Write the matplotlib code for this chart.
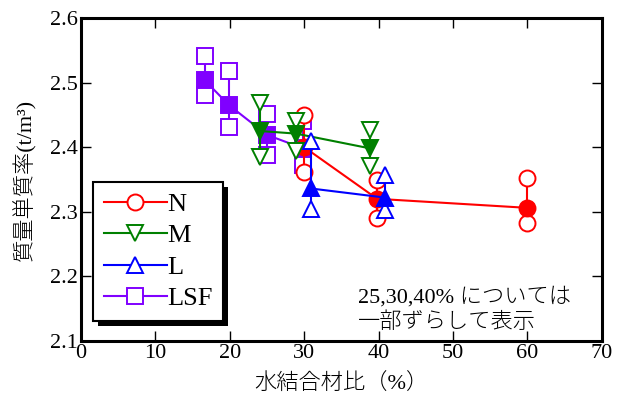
import matplotlib
matplotlib.use("Agg")
import matplotlib.pyplot as plt
from matplotlib.patches import Rectangle
from matplotlib.lines import Line2D

plt.rcParams['font.family'] = ['Liberation Serif', 'Noto Sans CJK JP']

# ---- data (x positions are shifted slightly as noted in the chart) ----
n_x = [30.0, 39.8, 60.0]
n_mean = [2.400, 2.320, 2.306]
n_upper = [2.450, 2.349, 2.353]
n_lower = [2.362, 2.291, 2.283]

m_x = [24.1, 28.9, 38.9]
m_mean = [2.425, 2.421, 2.398]
m_upper = [2.469, 2.441, 2.427]
m_lower = [2.385, 2.394, 2.371]

l_x = [30.9, 40.8]
l_mean = [2.336, 2.322]
l_upper = [2.409, 2.357]
l_lower = [2.304, 2.303]

lsf_x = [16.6, 19.9, 25.0, 29.9]
lsf_mean = [2.504, 2.465, 2.419, 2.398]
lsf_upper = [2.541, 2.518, 2.451, 2.440]
lsf_lower = [2.481, 2.431, 2.388, 2.373]

labels = ['N', 'M', 'L', 'LSF']
colors = ['#ff0000', '#008000', '#0000ff', '#8000ff']
markers = ['o', 'v', '^', 's']

series = {
    'N': (n_x, n_mean, n_upper, n_lower),
    'M': (m_x, m_mean, m_upper, m_lower),
    'L': (l_x, l_mean, l_upper, l_lower),
    'LSF': (lsf_x, lsf_mean, lsf_upper, lsf_lower),
}

fig = plt.figure(figsize=(6.23, 4.01), dpi=100)
ax = fig.add_axes([0.130, 0.150, 0.836, 0.805])

ms = 11.5
mew = 1.4
draw_order = ['LSF', 'N', 'M', 'L']
z = 3
for lab in draw_order:
    i = labels.index(lab)
    c, mk = colors[i], markers[i]
    xs, mean, up, lo = series[lab]
    for x, u, l in zip(xs, up, lo):
        ax.plot([x, x], [l, u], color=c, lw=1.5, zorder=z)
        ax.plot([x, x], [l, u], ls='none', marker=mk, ms=ms, mfc='white',
                mec=c, mew=mew, zorder=z + 0.1)
    ax.plot(xs, mean, color=c, lw=1.5, marker=mk, ms=ms, mfc=c, mec=c,
            mew=mew, zorder=z + 0.2)
    z += 1

ax.set_xlim(0, 70)
ax.set_ylim(2.1, 2.6)
ax.set_xticks(range(0, 71, 10))
ax.set_yticks([2.1, 2.2, 2.3, 2.4, 2.5, 2.6])
ax.set_yticklabels(['2.1', '2.2', '2.3', '2.4', '2.5', '2.6'])
ax.tick_params(direction='in', top=True, right=True, length=7, width=1,
               labelsize=16, pad=2)
for sp in ax.spines.values():
    sp.set_linewidth(2.2)

ax.set_xlabel('水結合材比（%）', fontsize=16, labelpad=8, fontweight='light')
ax.set_ylabel('質量単質率(t/m³)', fontsize=16, labelpad=10, fontweight='light')

handles = [Line2D([], [], color=colors[i], lw=1.5, marker=markers[i], ms=ms,
                  mfc='white', mec=colors[i], mew=mew) for i in range(4)]
leg = ax.legend(handles, labels, loc='upper left', bbox_to_anchor=(0.023, 0.492),
                borderaxespad=0, fontsize=19, handlelength=2.4,
                handletextpad=0.0, labelspacing=0.3, borderpad=0.4,
                frameon=True, fancybox=False, edgecolor='black',
                framealpha=1)
leg.get_frame().set_linewidth(1.5)
leg.set_zorder(20)

ax.text(37.2, 2.148, '25,30,40% については\n一部ずらして表示', fontsize=16,
        va='center', ha='left', linespacing=1.25, fontweight='light')

fig.canvas.draw()
bb = leg.get_window_extent()
off = 5
shadow = Rectangle((bb.x0 + off, bb.y0 - off), bb.width, bb.height,
                   transform=None, facecolor='black', edgecolor='none',
                   zorder=19)
ax.add_artist(shadow)

fig.savefig('out.png', dpi=100)
